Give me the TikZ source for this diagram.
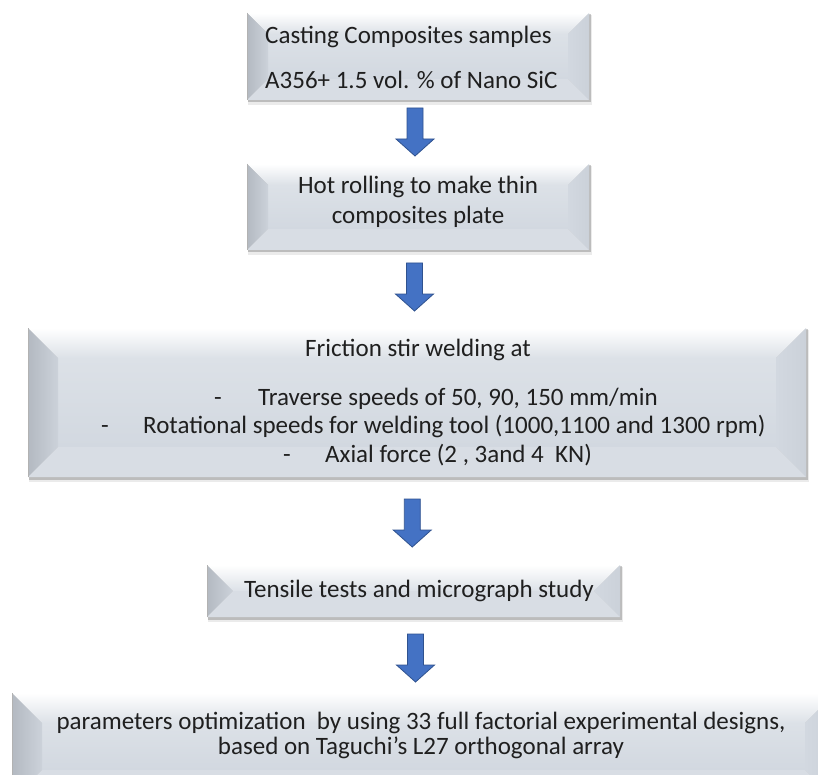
\documentclass[tikz,border=0pt]{standalone}
\usepackage{fontspec}
\setmainfont{Carlito}
\usetikzlibrary{calc}
\definecolor{facec}{HTML}{D2D8E0}
\definecolor{facetop}{HTML}{DCE1E7}
\definecolor{leftdark}{HTML}{B3B9C1}
\definecolor{leftlight}{HTML}{CCD2DA}
\definecolor{rightc}{HTML}{CBD1D9}
\definecolor{bottomc}{HTML}{D8DDE4}
\definecolor{arrfill}{HTML}{4472C4}
\definecolor{arrline}{HTML}{2F528F}
\tikzset{
  boxn/.style={inner sep=0pt, outer sep=0pt, draw=none},
  txt/.style={font=\fontsize{25}{30}\selectfont, inner sep=0pt, text=black!88, text height=0.68em, text depth=0.2em, yshift=-6pt},
  arrowshape/.style={fill=arrfill, draw=arrline, line width=0.8pt, line join=miter},
}
\newcommand\bevbox[6]{%
  \pgfmathsetmacro\bxw{#4-#2}%
  \pgfmathsetmacro\bxh{#5-#3}%
  \pgfmathsetmacro\bxcx{(#2+#4)/2}%
  \pgfmathsetmacro\bxcy{(#3+#5)/2}%
  \node[boxn, minimum width=\bxw pt, minimum height=\bxh pt] (#1) at (\bxcx,\bxcy) {};
  \fill[black, opacity=0.08] ($(#1.north west)+(1,2)$) rectangle ($(#1.south east)+(3,5)$);
  \fill[black, opacity=0.20] ($(#1.north west)+(0.5,1)$) rectangle ($(#1.south east)+(1.5,2.5)$);
  \shade[top color=facetop, bottom color=facec] ($(#1.north west)+(#6,#6)$) rectangle ($(#1.south east)+(-#6,-#6)$);
  \shade[top color=white, bottom color=facetop] (#1.north west) -- (#1.north east) -- ($(#1.north east)+(-#6,#6)$) -- ($(#1.north west)+(#6,#6)$) -- cycle;
  \shade[left color=leftdark, right color=leftlight] (#1.north west) -- ($(#1.north west)+(#6,#6)$) -- ($(#1.south west)+(#6,-#6)$) -- (#1.south west) -- cycle;
  \shade[left color=facec, right color=rightc] (#1.north east) -- ($(#1.north east)+(-#6,#6)$) -- ($(#1.south east)+(-#6,-#6)$) -- (#1.south east) -- cycle;
  \fill[bottomc] (#1.south west) -- ($(#1.south west)+(#6,-#6)$) -- ($(#1.south east)+(-#6,-#6)$) -- (#1.south east) -- cycle;
  \draw[black!30, line width=0.6pt] (#1.north west) -- (#1.south west);
}
\newcommand\downarr[1]{%
  \fill[arrowshape] ($(#1)+(-8,-24)$) -- ($(#1)+(8,-24)$) -- ($(#1)+(8,7)$) -- ($(#1)+(19,7)$) -- ($(#1)+(0,24)$) -- ($(#1)+(-19,7)$) -- ($(#1)+(-8,7)$) -- cycle;
}
\begin{document}
\begin{tikzpicture}[x=1pt,y=-1pt]
\useasboundingbox (0,0) rectangle (818,775);
\clip (0,0) rectangle (818,775);
\fill[white] (0,0) rectangle (818,775);

\bevbox{b1}{247}{13}{589}{100}{21}
\bevbox{b2}{247}{164}{589}{250}{21}
\bevbox{b3}{28}{328}{806}{477}{30}
\bevbox{b4}{207}{565}{620}{617}{26}
\bevbox{b5}{12}{693}{835}{800}{30}

% arrows between boxes
\coordinate (a1) at ($($(b1.south)!0.5!(b2.north)$)+(-3,0)$);
\coordinate (a2) at ($($(b2.south)!0.5!(b3.north)$)+(-3,-2)$);
\coordinate (a3) at ($($(b3.south)!0.5!(b4.north)$)+(-3,2)$);
\coordinate (a4) at ($($(b4.south)!0.5!(b5.north)$)+(-3,3)$);
\downarr{a1}
\downarr{a2}
\downarr{a3}
\downarr{a4}

% texts
\node[txt, anchor=west] (t1a) at (265,35) {Casting Composites samples};
\node[txt, anchor=west] (t1b) at (265,80) {A356+ 1.5 vol. \% of Nano SiC};
\node[txt] (t2a) at (418,185) {Hot rolling to make thin};
\node[txt] (t2b) at (418,215) {composites plate};
\node[txt] (t3a) at (418,348) {Friction stir welding at};
\node[txt] (d3b) at (218,397) {-};
\node[txt, anchor=west] (t3b) at (258,397) {Traverse speeds of 50, 90, 150 mm/min};
\node[txt] (d3c) at (105,425) {-};
\node[txt, anchor=west] (t3c) at (143,425) {Rotational speeds for welding tool (1000,1100 and 1300 rpm)};
\node[txt] (d3d) at (287,454) {-};
\node[txt, anchor=west] (t3d) at (325,454) {Axial force (2 , 3and 4~ KN)};
\node[txt] (t4) at (419,589) {Tensile tests and micrograph study};
\node[txt] (t5a) at (421,721) {parameters optimization~ by using 33 full factorial experimental designs,};
\node[txt] (t5b) at (421,746) {based on Taguchi’s L27 orthogonal array};
\end{tikzpicture}
\end{document}
